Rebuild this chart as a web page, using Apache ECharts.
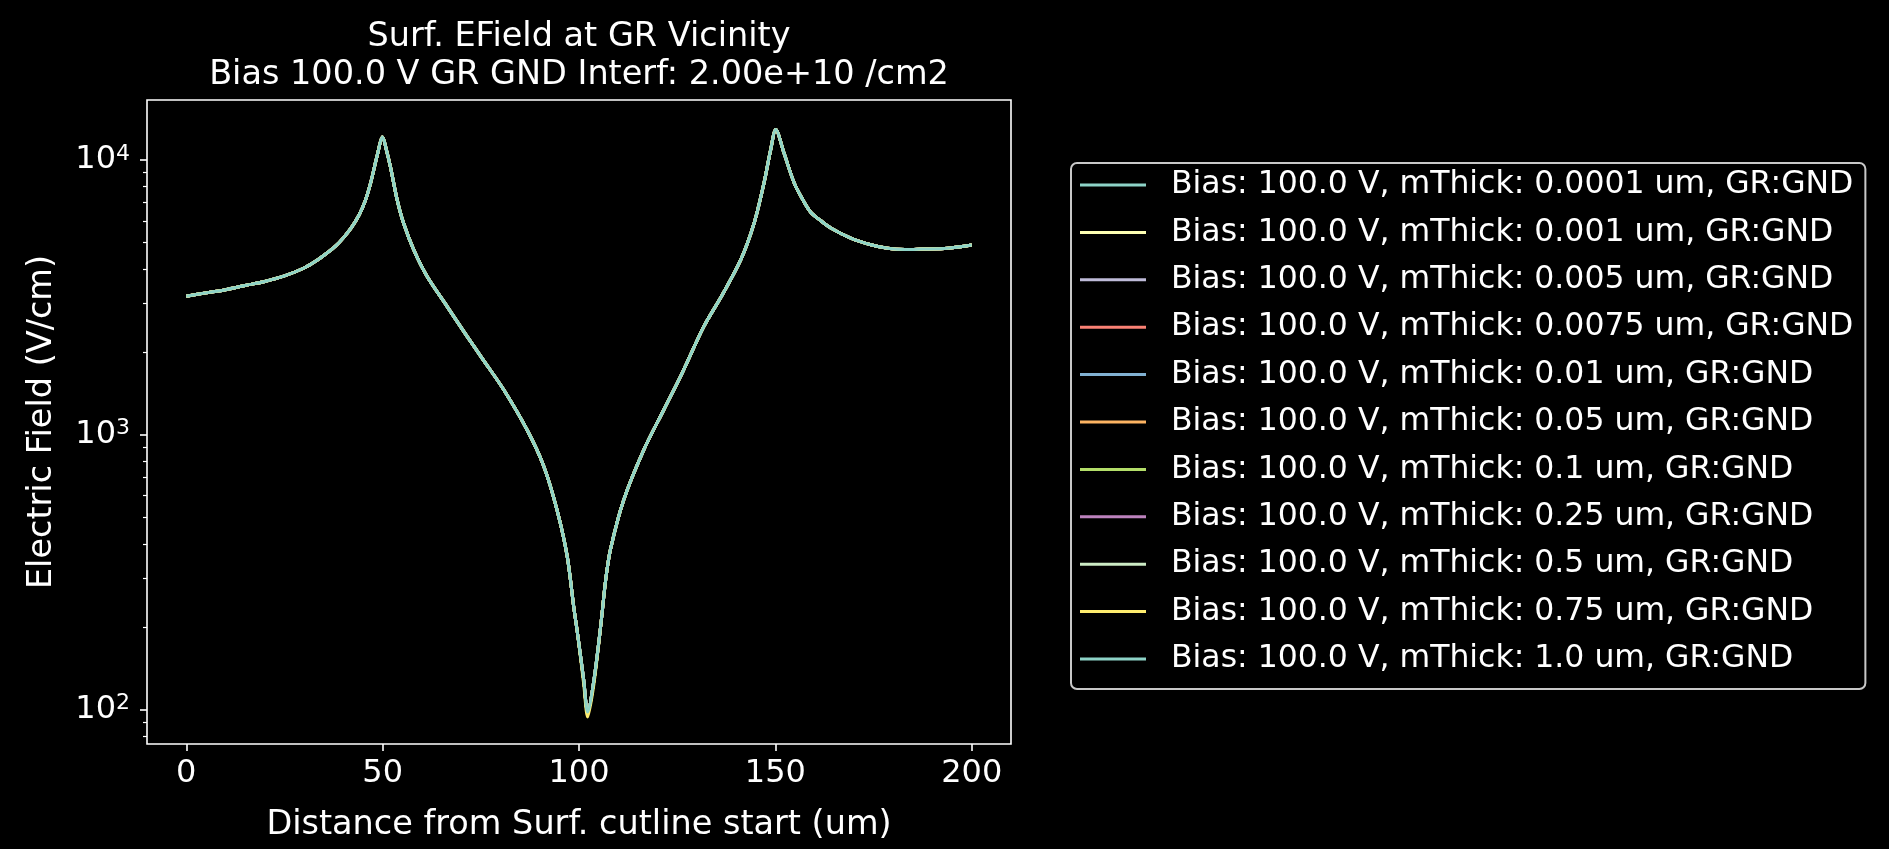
<!DOCTYPE html>
<html>
<head>
<meta charset="utf-8">
<title>Surf. EField at GR Vicinity</title>
<script src="https://cdn.jsdelivr.net/npm/echarts@6/dist/echarts.min.js"></script>
<style>
  html, body { margin: 0; padding: 0; background: #000; }
  #chart { width: 1889px; height: 849px; }
</style>
</head>
<body>
<div id="chart"></div>
<script>
// distance along the surface cutline (um)
var distance = [0, 5, 10, 15, 20, 25, 30, 33, 36, 38, 40, 42, 44, 45.5, 47, 48.5, 50, 51, 52, 53.7, 55.3, 57.9,
  61.3, 66.4, 71.5, 75.3, 80.8, 86.8, 91, 94.4, 97, 98.7, 99.5, 101.2, 102.2, 103.8, 105.5, 106.8, 108,
  111.4, 116.5, 121.6, 126.3, 131.8, 136.5, 141.2, 144.6, 147.1, 148.8, 150.1, 152.2, 154.8, 157, 159,
  161.6, 164.1, 169.2, 174.3, 178.6, 183, 187.1, 193.9, 200];
// electric field (V/cm), all thicknesses overlap on the plot
var efield = [3190, 3280, 3370, 3490, 3610, 3780, 4040, 4280, 4600, 4850, 5200, 5650, 6300, 7050, 8300, 10200, 12100, 10800, 9400, 7150, 5900, 4710,
  3770, 2930, 2280, 1900, 1460, 1040, 770, 533, 361, 234, 195, 128, 98, 128, 200, 297, 382,
  580, 881, 1233, 1680, 2477, 3230, 4330, 5890, 8230, 10870, 12900, 10580, 8230, 7150, 6450,
  6000, 5650, 5190, 4910, 4770, 4720, 4735, 4770, 4900];
// the 0.75 um curve dips a little deeper at the valley
var valley075 = [[101.2, 124], [102.2, 94], [103.8, 124]];
var thickness = ['0.0001', '0.001', '0.005', '0.0075', '0.01', '0.05', '0.1', '0.25', '0.5', '0.75', '1.0'];
var lineColors = ['#8dd3c7', '#feffb3', '#bfbbd9', '#fa8174', '#81b1d2', '#fdb462', '#b3de69', '#bc82bd', '#ccebc4', '#ffed6f', '#8dd3c7'];
var xTicks = [0, 50, 100, 150, 200];
var yMajor = [100, 1000, 10000];
var yMinor = [80, 90, 200, 300, 400, 500, 600, 700, 800, 900, 2000, 3000, 4000, 5000, 6000, 7000, 8000, 9000];

var FONT = 'DejaVu Sans';
var myChart = echarts.init(document.getElementById('chart'));

var points = [];
for (var i = 0; i < distance.length; i++) {
  points.push([distance[i], efield[i]]);
}
var points075 = points.map(function (p) {
  for (var j = 0; j < valley075.length; j++) {
    if (valley075[j][0] === p[0]) return valley075[j];
  }
  return p;
});

var series = [];
var names = [];
for (var k = 0; k < thickness.length; k++) {
  var name = 'Bias: 100.0 V, mThick: ' + thickness[k] + ' um, GR:GND';
  names.push(name);
  series.push({
    name: name,
    type: 'line',
    data: thickness[k] === '0.75' ? points075 : points,
    showSymbol: false,
    symbol: 'none',
    smooth: 0.3,
    lineStyle: { width: 3, color: lineColors[k] },
    itemStyle: { color: lineColors[k] },
    animation: false
  });
}

var option = {
  backgroundColor: '#000000',
  title: {
    text: 'Surf. EField at GR Vicinity\nBias 100.0 V GR GND Interf: 2.00e+10 /cm2',
    left: 579,
    top: 18,
    textAlign: 'center',
    padding: 0,
    textStyle: { color: '#ffffff', fontSize: 33.5, fontWeight: 'normal', fontFamily: FONT, lineHeight: 38 }
  },
  grid: {
    left: 147, top: 100, right: 878, bottom: 105,
    show: true, borderColor: '#ffffff', borderWidth: 1.6, backgroundColor: 'transparent'
  },
  legend: {
    orient: 'vertical',
    left: 1071,
    top: 163,
    data: names,
    icon: 'rect',
    itemWidth: 66,
    itemHeight: 3,
    itemGap: 15.4,
    padding: [6, 12, 14, 9],
    borderColor: '#c8c8c8',
    borderWidth: 2,
    borderRadius: 6,
    backgroundColor: '#000000',
    textStyle: { color: '#ffffff', fontSize: 31.5, fontFamily: FONT, lineHeight: 32, padding: [0, 0, 0, 20] }
  },
  xAxis: {
    type: 'value',
    min: -10,
    max: 210,
    name: 'Distance from Surf. cutline start (um)',
    nameLocation: 'middle',
    nameGap: 64,
    nameTextStyle: { color: '#ffffff', fontSize: 33.5, fontFamily: FONT },
    axisLine: { show: false, onZero: false },
    splitLine: { show: false },
    axisTick: { customValues: xTicks, length: 7, lineStyle: { color: '#ffffff', width: 1.6 } },
    axisLabel: { customValues: xTicks, color: '#ffffff', fontSize: 32, fontFamily: FONT, margin: 14 }
  },
  yAxis: [{
    type: 'log',
    min: 75,
    max: 16500,
    name: 'Electric Field (V/cm)',
    nameLocation: 'middle',
    nameGap: 88,
    nameTextStyle: { color: '#ffffff', fontSize: 33.5, fontFamily: FONT },
    axisLine: { show: false, onZero: false },
    splitLine: { show: false },
    axisTick: { customValues: yMajor, length: 7, lineStyle: { color: '#ffffff', width: 1.6 } },
    axisLabel: {
      customValues: yMajor,
      margin: 17,
      formatter: function (v) {
        return '{b|10}{s|' + Math.round(Math.log10(v)) + '}';
      },
      rich: {
        b: { color: '#ffffff', fontSize: 32, fontFamily: FONT, lineHeight: 34 },
        s: { color: '#ffffff', fontSize: 22, fontFamily: FONT, lineHeight: 22, verticalAlign: 'top' }
      }
    }
  }, {
    type: 'log',
    min: 75,
    max: 16500,
    position: 'left',
    axisLine: { show: false, onZero: false },
    splitLine: { show: false },
    axisLabel: { show: false },
    axisTick: { customValues: yMinor, length: 4, lineStyle: { color: '#ffffff', width: 1.2 } }
  }],
  series: series
};
myChart.setOption(option);
</script>
</body>
</html>
